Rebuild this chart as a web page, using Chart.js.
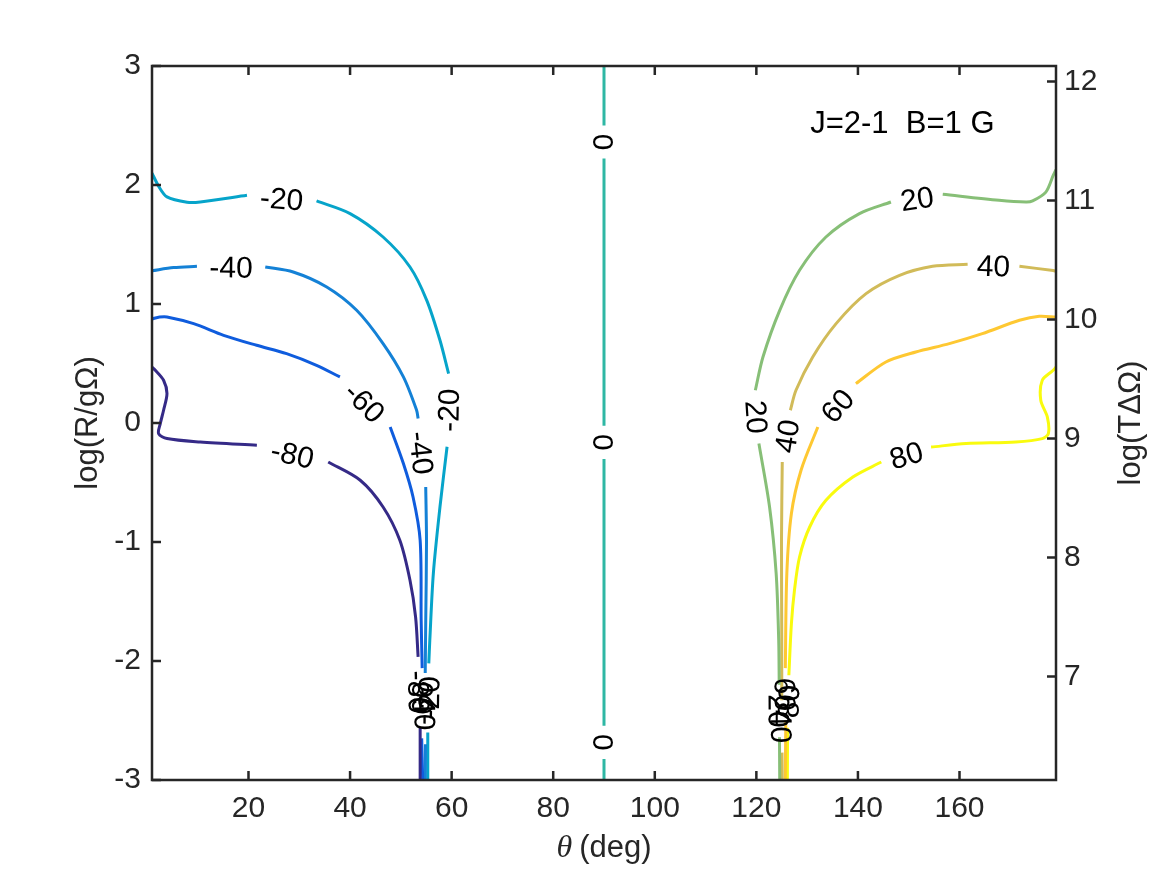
<!DOCTYPE html>
<html>
<head>
<meta charset="utf-8">
<script src="https://cdn.jsdelivr.net/npm/chart.js@4.4.1/dist/chart.umd.min.js"></script>
<style>
  html, body { margin: 0; padding: 0; background: #fff; }
  canvas { display: block; }
</style>
</head>
<body>
<canvas id="chart" width="1167" height="875"></canvas>
<script>
// contour levels, axis ranges and ticks
const levels = [-80, -60, -40, -20, 0, 20, 40, 60, 80];
const xTicks = [20, 40, 60, 80, 100, 120, 140, 160];
const yTicks = [-3, -2, -1, 0, 1, 2, 3];
const y2Ticks = [7, 8, 9, 10, 11, 12];
const thetaMin = 1, thetaMax = 179;
const logRMin = -3, logRMax = 3;
const logTMin = 6.13, logTMax = 12.13;
const note = 'J=2-1  B=1 G';

// contour paths as [theta, logR]; null = gap where the inline label sits
const cM80 = [
  [1.0, 0.47], [1.65, 0.443], [3.28, 0.359], [3.95, 0.247], [3.28, 0.107], [2.63, -0.005],
  [2.3, -0.089], [3.95, -0.131], [10.5, -0.16], [21.65, -0.187],
  null,
  [35.7, -0.328], [42.0, -0.481], [46.5, -0.706], [49.8, -0.986], [51.8, -1.322],
  [52.9, -1.63], [53.4, -1.966],
  null,
  [53.8, -2.555], [53.8, -3.0]
];
const cM60 = [
  [1.0, 0.875], [2.5, 0.89], [3.95, 0.891], [9.2, 0.835], [15.1, 0.737], [21.6, 0.653],
  [27.5, 0.583], [33.4, 0.485], [38.0, 0.387],
  null,
  [47.9, -0.034], [50.5, -0.341], [52.4, -0.622], [53.8, -0.986], [54.0, -1.66], [54.2, -2.06],
  null,
  [54.1, -2.65], [54.3, -3.0]
];
const cM40 = [
  [1.0, 1.28], [5.25, 1.306], [9.85, 1.317],
  null,
  [23.3, 1.311], [28.8, 1.269], [35.4, 1.143], [41.3, 0.947], [46.5, 0.667], [50.5, 0.387],
  [53.1, 0.107], [53.4, 0.037],
  null,
  [54.9, -0.538], [55.05, -1.0], [54.9, -1.66], [54.8, -2.1],
  null,
  [54.85, -2.7], [54.8, -3.0]
];
const cM20 = [
  [1.0, 2.1], [2.3, 1.99], [3.95, 1.9], [7.9, 1.855], [10.5, 1.857], [19.7, 1.913],
  null,
  [33.4, 1.866], [40.0, 1.76], [46.5, 1.563], [51.8, 1.311], [55.1, 1.031], [57.7, 0.695], [59.4, 0.415],
  null,
  [59.1, -0.2], [57.7, -0.706], [56.4, -1.263], [55.7, -1.826], [55.5, -2.02],
  null,
  [55.3, -2.6], [55.3, -3.0]
];
const c0 = [
  [90, 3.0], [90, 2.5],
  null,
  [90, 2.222], [90, -0.024],
  null,
  [90, -0.303], [90, -2.545],
  null,
  [90, -2.824], [90, -3.0]
];
const cP20 = [
  [179, 2.13], [178.45, 2.08], [177.0, 1.94], [174.4, 1.866], [173.1, 1.857], [167.8, 1.871], [156.7, 1.922],
  null,
  [146.5, 1.857], [140.3, 1.76], [133.7, 1.563], [128.5, 1.283], [124.6, 0.947], [121.3, 0.555], [119.8, 0.275],
  null,
  [120.5, -0.173], [122.6, -0.706], [123.9, -1.266], [124.4, -1.826], [124.5, -2.2],
  null,
  [124.55, -2.64], [124.6, -3.0]
];
const cP40 = [
  [179, 1.275], [178.45, 1.281], [171.8, 1.317],
  null,
  [161.6, 1.334], [154.7, 1.317], [148.2, 1.241], [141.6, 1.087], [135.7, 0.835], [131.1, 0.555],
  [127.8, 0.275], [126.7, 0.107],
  null,
  [125.1, -0.328], [124.95, -0.986], [125.0, -1.8], [125.0, -2.33],
  null,
  [125.05, -2.77], [125.1, -3.0]
];
const cP60 = [
  [179, 0.89], [175.7, 0.897], [171.8, 0.863], [164.5, 0.751], [158.0, 0.667], [151.4, 0.597],
  [145.5, 0.513], [139.6, 0.331],
  null,
  [132.1, -0.034], [128.8, -0.397], [126.9, -0.761], [126.0, -1.266], [125.7, -2.06],
  null,
  [125.8, -2.5], [125.7, -3.0]
];
const cP80 = [
  [179, 0.47], [178.45, 0.443], [176.3, 0.359], [176.0, 0.191], [177.3, 0.05], [177.5, -0.089],
  [176.3, -0.131], [171.1, -0.16], [161.3, -0.173], [154.4, -0.202],
  null,
  [144.6, -0.328], [139.0, -0.454], [133.7, -0.65], [130.5, -0.874], [128.5, -1.126],
  [127.5, -1.406], [126.9, -1.686], [126.4, -2.12],
  null,
  [126.15, -2.56], [126.1, -3.0]
];
const contours = [cM80, cM60, cM40, cM20, c0, cP20, cP40, cP60, cP80];

// parula colours for the nine levels
const colors = ['#352A87', '#0F5CDD', '#1481D6', '#06A4CA', '#2EB7A4', '#87BF77', '#D1BB59', '#FEC832', '#F9FB0E'];

const axisColor = '#262626';
const sans = '"Liberation Sans", Arial, Helvetica, sans-serif';
const tickSize = 30;

function toPoints(arr) {
  let lastX = arr[0][0];
  return arr.map(p => {
    if (p === null) return { x: lastX, y: null };
    lastX = p[0];
    return { x: p[0], y: p[1] };
  });
}

// axes box and inward tick marks on all four sides (MATLAB style)
const axesBox = {
  id: 'axesBox',
  afterDraw(chart) {
    const { ctx, chartArea: a, scales } = chart;
    const len = 9;
    ctx.save();
    ctx.strokeStyle = axisColor;
    ctx.lineWidth = 2.5;
    ctx.strokeRect(a.left, a.top, a.right - a.left, a.bottom - a.top);
    ctx.beginPath();
    xTicks.forEach(v => {
      const p = scales.x.getPixelForValue(v);
      ctx.moveTo(p, a.bottom); ctx.lineTo(p, a.bottom - len);
      ctx.moveTo(p, a.top); ctx.lineTo(p, a.top + len);
    });
    yTicks.forEach(v => {
      const p = scales.y.getPixelForValue(v);
      ctx.moveTo(a.left, p); ctx.lineTo(a.left + len, p);
    });
    y2Ticks.forEach(v => {
      const p = scales.y2.getPixelForValue(v);
      ctx.moveTo(a.right, p); ctx.lineTo(a.right - len, p);
    });
    ctx.stroke();
    ctx.restore();
  }
};

// inline contour labels: centred in each gap, rotated along the line
const contourLabels = {
  id: 'contourLabels',
  afterDatasetsDraw(chart) {
    const { ctx, scales } = chart;
    ctx.save();
    ctx.font = tickSize + 'px ' + sans;
    ctx.fillStyle = '#000';
    ctx.textAlign = 'center';
    ctx.textBaseline = 'alphabetic';
    contours.forEach((pts, i) => {
      const text = String(levels[i]);
      for (let k = 1; k < pts.length - 1; k++) {
        if (pts[k] !== null) continue;
        const a = pts[k - 1], b = pts[k + 1];
        const ax = scales.x.getPixelForValue(a[0]), ay = scales.y.getPixelForValue(a[1]);
        const bx = scales.x.getPixelForValue(b[0]), by = scales.y.getPixelForValue(b[1]);
        let ang = Math.atan2(by - ay, bx - ax);
        if (ang > Math.PI / 2) ang -= Math.PI;
        else if (ang <= -Math.PI / 2) ang += Math.PI;
        ctx.save();
        ctx.translate((ax + bx) / 2, (ay + by) / 2);
        ctx.rotate(ang);
        ctx.fillText(text, 0, tickSize * 0.36);
        ctx.restore();
      }
    });
    ctx.restore();
  }
};

// axis titles and the annotation
const titles = {
  id: 'titles',
  afterDraw(chart) {
    const { ctx, chartArea: a } = chart;
    ctx.save();
    ctx.fillStyle = axisColor;
    ctx.textBaseline = 'alphabetic';

    // x title: italic theta + (deg)
    const fTheta = 'italic 32px "Liberation Serif", "Times New Roman", serif';
    const fText = '31px ' + sans;
    ctx.font = fTheta;
    const wTheta = ctx.measureText('\u03B8').width;
    ctx.font = fText;
    const wRest = ctx.measureText('(deg)').width;
    const gap = 7;
    const x0 = (a.left + a.right) / 2 - (wTheta + gap + wRest) / 2;
    const base = a.bottom + 77;
    ctx.textAlign = 'left';
    ctx.font = fTheta;
    ctx.fillText('\u03B8', x0, base);
    ctx.font = fText;
    ctx.fillText('(deg)', x0 + wTheta + gap, base);

    // y titles (rotated)
    const cy = (a.top + a.bottom) / 2;
    ctx.textAlign = 'center';
    ctx.save();
    ctx.translate(a.left - 55, cy);
    ctx.rotate(-Math.PI / 2);
    ctx.fillText('log(R/g\u03A9)', 0, 0);
    ctx.restore();
    ctx.save();
    ctx.translate(a.right + 84, cy);
    ctx.rotate(-Math.PI / 2);
    ctx.fillText('log(T\u0394\u03A9)', 0, 0);
    ctx.restore();

    // annotation inside the axes
    ctx.font = '31px ' + sans;
    ctx.fillStyle = '#000';
    ctx.textAlign = 'left';
    ctx.fillText(note, chart.scales.x.getPixelForValue(130.6), chart.scales.y.getPixelForValue(2.44));
    ctx.restore();
  }
};

const tickFont = { family: sans, size: tickSize };
const setTicks = list => scale => { scale.ticks = list.map(v => ({ value: v })); };
const borderOpts = { display: false };
const gridOpts = { display: false, drawTicks: false };

new Chart(document.getElementById('chart'), {
  type: 'scatter',
  data: {
    datasets: contours.map((c, i) => ({
      label: String(levels[i]),
      data: toPoints(c),
      showLine: true,
      spanGaps: false,
      borderColor: colors[i],
      borderWidth: 3,
      pointRadius: 0,
      tension: 0.3,
      xAxisID: 'x',
      yAxisID: 'y'
    }))
  },
  options: {
    responsive: false,
    devicePixelRatio: 1,
    animation: false,
    events: [],
    layout: { padding: 0 },
    plugins: { legend: { display: false }, tooltip: { enabled: false } },
    scales: {
      x: {
        type: 'linear', position: 'bottom', min: thetaMin, max: thetaMax,
        afterBuildTicks: setTicks(xTicks),
        afterFit: s => { s.height = 95; },
        grid: gridOpts, border: borderOpts,
        ticks: { font: tickFont, color: axisColor, padding: 11, maxRotation: 0, autoSkip: false }
      },
      xTop: {
        type: 'linear', position: 'top', min: thetaMin, max: thetaMax,
        afterBuildTicks: setTicks(xTicks),
        afterFit: s => { s.height = 66; },
        grid: gridOpts, border: borderOpts,
        ticks: { display: false }
      },
      y: {
        type: 'linear', position: 'left', min: logRMin, max: logRMax,
        afterBuildTicks: setTicks(yTicks),
        afterFit: s => { s.width = 152; },
        grid: gridOpts, border: borderOpts,
        ticks: { font: tickFont, color: axisColor, padding: 11, autoSkip: false }
      },
      y2: {
        type: 'linear', position: 'right', min: logTMin, max: logTMax,
        afterBuildTicks: setTicks(y2Ticks),
        afterFit: s => { s.width = 111; },
        grid: gridOpts, border: borderOpts,
        ticks: { font: tickFont, color: axisColor, padding: 8, autoSkip: false }
      }
    }
  },
  plugins: [contourLabels, axesBox, titles]
});
</script>
</body>
</html>
